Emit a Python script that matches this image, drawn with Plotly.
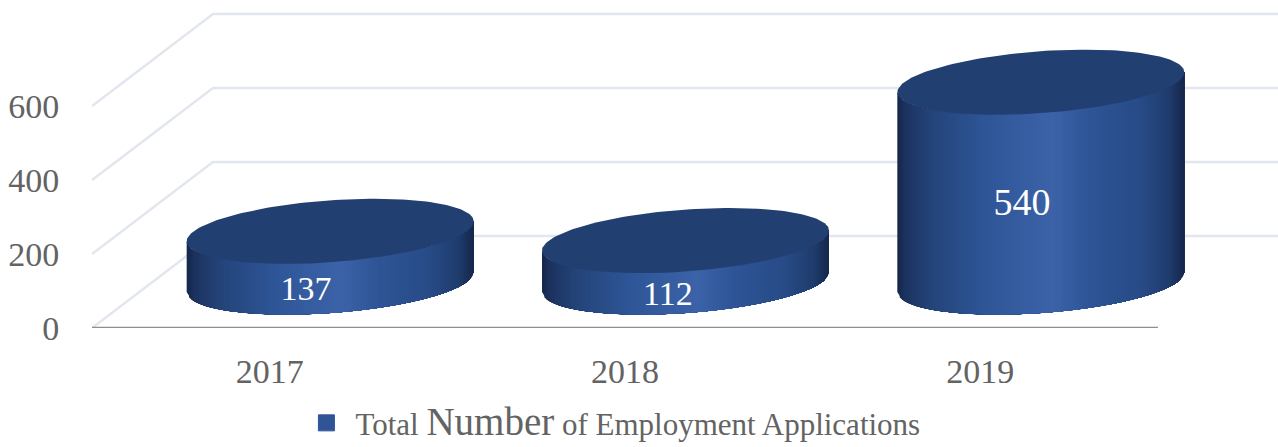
import numpy as np
import plotly.graph_objects as go

# Data
categories = ["2017", "2018", "2019"]
values = [137, 112, 540]
y_ticks = [0, 200, 400, 600]

# Geometry / scale settings (in axis units)
W, H = 1278, 447
ML, MB = 92, 119
PX_PER_CAT = 355.33
PX_PER_VAL = 0.37
X_RANGE = [-0.5, (W - ML) / PX_PER_CAT - 0.5]
Y_RANGE = [0, (H - MB) / PX_PER_VAL]
DEPTH_X = 121 / PX_PER_CAT
DEPTH_Y = 92 / PX_PER_VAL
RX = 143.5 / PX_PER_CAT
RY = 31 / PX_PER_VAL
TILT = 10 / PX_PER_VAL
N_STRIPS = 120

GRID = "#e2e6ee"
AXIS = "#8f8f8f"
TEXT = "#636363"
CAP = "#223f72"
FONT = "Liberation Serif"
STOPS = [(0.0, "#15264a"), (0.03, "#1c3360"), (0.12, "#244479"), (0.3, "#2e5596"),
         (0.54, "#3c63a8"), (0.66, "#2f5597"), (0.85, "#274b86"), (0.95, "#1f3b6c"), (1.0, "#15264a")]
LABEL_DX = [0.102, 0.121, 0.117]
LABEL_DY = [30, 29, 62]
LABEL_SIZE = [34, 34, 38]


def hex_rgb(h):
    return np.array([int(h[i:i + 2], 16) for i in (1, 3, 5)], dtype=float)


def grad(u):
    xs = [s[0] for s in STOPS]
    cs = np.array([hex_rgb(s[1]) for s in STOPS])
    rgb = [np.interp(u, xs, cs[:, k]) for k in range(3)]
    return "rgb(%d,%d,%d)" % tuple(int(round(v)) for v in rgb)


fig = go.Figure()

# Wall and floor gridlines
gx, gy = [], []
for v in y_ticks:
    gx += [-0.5, -0.5 + DEPTH_X, X_RANGE[1], None]
    gy += [v, v + DEPTH_Y, v + DEPTH_Y, None]
fig.add_trace(go.Scatter(x=gx, y=gy, mode="lines", line=dict(color=GRID, width=2.5),
                         showlegend=False, hoverinfo="skip"))
# Front axis line
fig.add_trace(go.Scatter(x=[-0.5, 2.5], y=[0, 0], mode="lines", line=dict(color=AXIS, width=2.5),
                         cliponaxis=False, showlegend=False, hoverinfo="skip"))

# Legend entry: square markers that sit behind the cylinders
fig.add_trace(go.Scatter(
    x=[i + DEPTH_X / 2 for i in range(len(values))],
    y=[v / 2 + DEPTH_Y / 2 for v in values],
    mode="markers",
    marker=dict(symbol="square", size=16, color="#2f5597", line=dict(width=1, color="#2f5597")),
    name='Total <span style="font-size:39px">Number</span> of Employment Applications',
    hoverinfo="skip",
))

# Cylinders
for i, val in enumerate(values):
    cx = i + DEPTH_X / 2
    cy = DEPTH_Y / 2
    for k in range(N_STRIPS):
        u0 = k / N_STRIPS
        u = np.linspace(u0, 1, max(3, (N_STRIPS - k) // 2))
        cos_t = 2 * u - 1
        sin_t = -np.sqrt(np.clip(1 - cos_t ** 2, 0, 1))
        xs = cx + RX * cos_t
        ybot = cy + RY * sin_t + TILT * cos_t
        px = np.concatenate([xs, xs[::-1]])
        py = np.concatenate([ybot, (ybot + val)[::-1]])
        fig.add_trace(go.Scatter(x=px, y=py, mode="lines", fill="toself",
                                 fillcolor=grad(u0 + 0.5 / N_STRIPS), line=dict(width=0),
                                 showlegend=False, hoverinfo="skip"))
    t = np.linspace(0, 2 * np.pi, 181)
    fig.add_trace(go.Scatter(x=cx + RX * np.cos(t),
                             y=cy + val + RY * np.sin(t) + TILT * np.cos(t),
                             mode="lines", fill="toself", fillcolor=CAP, line=dict(width=0),
                             showlegend=False, hoverinfo="skip"))

# Data labels
fig.add_trace(go.Scatter(
    x=[i + LABEL_DX[i] for i in range(len(values))],
    y=[values[i] / 2 + LABEL_DY[i] for i in range(len(values))],
    mode="text",
    text=[str(v) for v in values],
    textposition="middle center",
    textfont=dict(family=FONT, size=LABEL_SIZE, color="white"),
    showlegend=False,
    hoverinfo="skip",
))

fig.update_layout(
    width=W, height=H, autosize=False,
    margin=dict(l=ML, r=0, t=0, b=MB, pad=0, autoexpand=False),
    paper_bgcolor="white", plot_bgcolor="white",
    font=dict(family=FONT, color=TEXT),
    xaxis=dict(range=X_RANGE, tickmode="array", tickvals=[0, 1, 2], ticktext=categories,
               tickfont=dict(size=34, color=TEXT, family=FONT), showgrid=False, zeroline=False,
               showline=False, ticks="outside", ticklen=13, tickcolor="rgba(0,0,0,0)", fixedrange=True),
    yaxis=dict(range=Y_RANGE, tickmode="array", tickvals=y_ticks,
               tickfont=dict(size=34, color=TEXT, family=FONT), showgrid=False, zeroline=False,
               showline=False, ticks="outside", ticklen=25, tickcolor="rgba(0,0,0,0)", fixedrange=True),
    showlegend=True,
    legend=dict(orientation="h", x=0.1732, xanchor="left", y=-0.208, yanchor="top",
                itemsizing="trace", itemwidth=48, font=dict(size=31, color=TEXT, family=FONT),
                bgcolor="rgba(0,0,0,0)"),
)

fig.write_html("out.html", config={"displayModeBar": False},
               post_script="document.body.style.margin='0';")
